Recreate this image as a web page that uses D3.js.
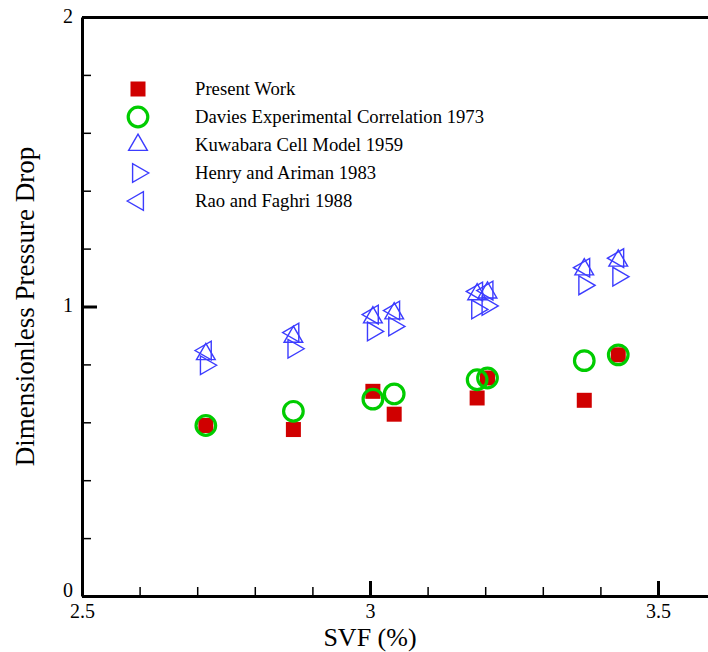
<!DOCTYPE html>
<html>
<head>
<meta charset="utf-8">
<script src="https://cdn.jsdelivr.net/npm/d3@7"></script>
<style>
  body { margin: 0; background: #fff; }
  svg { display: block; }
  svg text { font-family: 'Liberation Serif', 'Times New Roman', Times, 'DejaVu Serif', serif; }
</style>
</head>
<body>
<div id="chart"></div>
<script>
// SVF values shared by every series
const svf = [2.715, 2.867, 3.005, 3.042, 3.186, 3.204, 3.372, 3.431];

// Series values (dimensionless pressure drop)
const presentWork = [0.589, 0.575, 0.707, 0.628, 0.684, 0.753, 0.676, 0.833];
const davies      = [0.589, 0.638, 0.680, 0.698, 0.747, 0.753, 0.813, 0.833];
const kuwabara    = [0.835, 0.895, 0.962, 0.976, 1.042, 1.048, 1.128, 1.158];
const henry       = [0.797, 0.854, 0.914, 0.931, 0.990, 1.002, 1.073, 1.103];
const rao         = [0.848, 0.910, 0.972, 0.986, 1.052, 1.055, 1.134, 1.167];

const seriesNames = [
  'Present Work',
  'Davies Experimental Correlation 1973',
  'Kuwabara Cell Model 1959',
  'Henry and Ariman 1983',
  'Rao and Faghri 1988'
];

// Tick values
const xMajor = [2.5, 3, 3.5];
const xMinor = [2.6, 2.7, 2.8, 2.9, 3.1, 3.2, 3.3, 3.4];
const yMajor = [0, 1, 2];
const yMinor = [0.2, 0.4, 0.6, 0.8, 1.2, 1.4, 1.6, 1.8];

const width = 708;
const height = 652;
const margin = { top: 17, left: 82, bottom: 56 };
const serif = "'Liberation Serif', 'Times New Roman', Times, serif";

const x = d3.scaleLinear().domain([2.5, 3.6]).range([margin.left, margin.left + 1.1 * 576]);
const y = d3.scaleLinear().domain([0, 2]).range([height - margin.bottom, margin.top]);

const svg = d3.select('#chart').append('svg')
  .attr('width', width)
  .attr('height', height)
  .attr('font-family', serif);

// Marker drawers
const red = '#d00000', green = '#00cc00', blue = '#3c3cff';
const tri = (dir) => (g, cx, cy) => {
  const r = 10.8, a = { right: 0, up: -90, left: 180 }[dir] * Math.PI / 180;
  const pts = [0, 120, 240].map(d => {
    const t = a + d * Math.PI / 180;
    return [cx + r * Math.cos(t), cy + r * Math.sin(t)];
  });
  g.append('polygon')
    .attr('points', pts.map(p => p.join(',')).join(' '))
    .attr('fill', 'none').attr('stroke', blue).attr('stroke-width', 1.4);
};
const markers = [
  (g, cx, cy) => g.append('rect')
    .attr('x', cx - 7.5).attr('y', cy - 7.5).attr('width', 15).attr('height', 15)
    .attr('fill', red),
  (g, cx, cy) => g.append('circle')
    .attr('cx', cx).attr('cy', cy).attr('r', 9.8)
    .attr('fill', 'none').attr('stroke', green).attr('stroke-width', 3.2),
  tri('up'),
  tri('right'),
  tri('left')
];

// Axes: frame lines
const xAxis = svg.append('g')
  .attr('transform', `translate(0,${y(0)})`)
  .call(d3.axisBottom(x).tickValues(xMajor).tickSizeInner(-15).tickSizeOuter(0)
    .tickPadding(8).tickFormat(d3.format('')));
const xMinorAxis = svg.append('g')
  .attr('transform', `translate(0,${y(0)})`)
  .call(d3.axisBottom(x).tickValues(xMinor).tickSize(-9).tickFormat(''));
const yAxis = svg.append('g')
  .attr('transform', `translate(${x(2.5)},0)`)
  .call(d3.axisLeft(y).tickValues(yMajor).tickSizeInner(-15).tickSizeOuter(0)
    .tickPadding(9).tickFormat(d3.format('')));
const yMinorAxis = svg.append('g')
  .attr('transform', `translate(${x(2.5)},0)`)
  .call(d3.axisLeft(y).tickValues(yMinor).tickSize(-9).tickFormat(''));
const topAxis = svg.append('g')
  .attr('transform', `translate(0,${y(2)})`)
  .call(d3.axisTop(x).tickValues([]).tickSizeOuter(0));

[xAxis, yAxis, topAxis, xMinorAxis, yMinorAxis].forEach(a => a.attr('font-family', serif));
[xAxis, yAxis, topAxis].forEach(a => {
  a.select('.domain').attr('stroke', '#000').attr('stroke-width', 3);
  a.selectAll('.tick line').attr('stroke', '#000').attr('stroke-width', 3);
  a.selectAll('.tick text').attr('fill', '#000').attr('font-size', 20);
});
// "0" sits just above the "2.5" label, as in the original
yAxis.selectAll('.tick text').attr('dy', d => d === 0 ? '0em' : '0.25em');
[xMinorAxis, yMinorAxis].forEach(a => {
  a.select('.domain').remove();
  a.selectAll('.tick line').attr('stroke', '#000').attr('stroke-width', 1.5);
});

// Axis titles
svg.append('text')
  .attr('x', x(3)).attr('y', 646)
  .attr('text-anchor', 'middle')
  .attr('font-size', 26)
  .text('SVF (%)');

svg.append('text')
  .attr('transform', `translate(34,${y(1)}) rotate(-90)`)
  .attr('text-anchor', 'middle')
  .attr('font-size', 27)
  .text('Dimensionless Pressure Drop');

// Data points
const series = [presentWork, davies, kuwabara, henry, rao];
const plot = svg.append('g');
series.forEach((vals, i) => {
  vals.forEach((v, j) => markers[i](plot, x(svf[j]), y(v)));
});

// Legend
const legend = svg.append('g');
seriesNames.forEach((name, i) => {
  const ly = 89 + i * 28;
  markers[i](legend, 138, ly);
  legend.append('text')
    .attr('x', 195).attr('y', ly + 6)
    .attr('font-size', 18.7)
    .text(name);
});
</script>
</body>
</html>
